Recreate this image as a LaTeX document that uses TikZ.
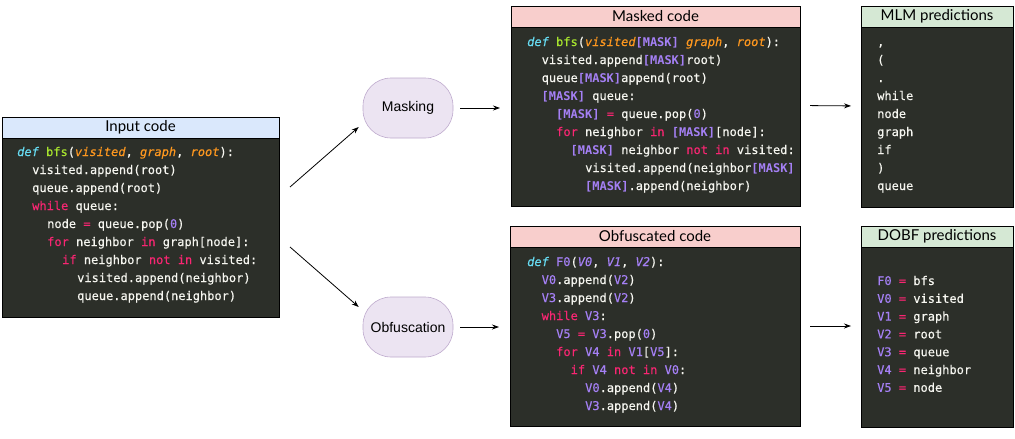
\documentclass[tikz,border=0pt]{standalone}
\usepackage{fontspec}
\setmainfont{Liberation Sans}
\setmonofont[UprightFeatures={FakeBold=0.35}, ItalicFeatures={FakeBold=0.35}]{DejaVu Sans Mono}
\newfontfamily\headfont{Lato}
\usetikzlibrary{arrows.meta,positioning,calc}

\definecolor{codebg}{RGB}{44,47,41}
\definecolor{codefg}{RGB}{246,246,240}
\definecolor{inhead}{RGB}{218,232,252}
\definecolor{redhead}{RGB}{248,206,204}
\definecolor{greenhead}{RGB}{213,232,212}
\definecolor{opfill}{RGB}{236,228,242}
\definecolor{opline}{RGB}{190,170,205}
\definecolor{cpink}{RGB}{249,38,114}
\definecolor{ccyan}{RGB}{102,217,239}
\definecolor{cgreen}{RGB}{166,226,46}
\definecolor{corange}{RGB}{253,151,31}
\definecolor{cpurple}{RGB}{165,128,245}

\newcommand{\ckw}[1]{\textcolor{cpink}{#1}}
\newcommand{\cdef}[1]{\textcolor{ccyan}{\itshape #1}}
\newcommand{\cfn}[1]{\textcolor{cgreen}{#1}}
\newcommand{\carg}[1]{\textcolor{corange}{\itshape #1}}
\newcommand{\cnum}[1]{\textcolor{cpurple}{#1}}
\newcommand{\cvar}[1]{\textcolor{cpurple}{\itshape #1}}
\newcommand{\cmask}[1]{\textcolor{cpurple}{\bfseries #1}}

\begin{document}
\begin{tikzpicture}[
  x=1pt, y=-1pt,
  head/.style={draw, line width=0.8pt, anchor=north west, inner sep=0pt, outer sep=0pt, minimum height=21pt, font=\headfont\fontsize{15}{17}\selectfont},
  body/.style={draw, line width=0.8pt, fill=codebg, anchor=north west, inner sep=0pt, outer sep=0pt},
  code/.style={anchor=base west, inner sep=0pt, text=codefg, font=\ttfamily\fontsize{12}{18}\selectfont},
  op/.style={draw=opline, fill=opfill, line width=0.6pt, rounded corners=28pt, minimum width=90pt, minimum height=60pt, font=\fontsize{14}{16}\selectfont},
  arr/.style={-{Stealth[length=7pt, width=5pt]}, line width=0.8pt},
]
  \useasboundingbox (0,0) rectangle (1015,439);

  % Input code
  \node[head, fill=inhead, minimum width=277pt] (inhead) at (2,117) {Input code};
  \node[body, minimum width=277pt, minimum height=179pt] (inbody) at (inhead.south west) {};
  \foreach \ind/\txt [count=\i] in {
      0/{\cdef{def} \cfn{bfs}(\carg{visited}, \carg{graph}, \carg{root}):},
      1/{visited.append(root)},
      1/{queue.append(root)},
      1/{\ckw{while} queue:},
      2/{node \ckw{=} queue.pop(\cnum{0})},
      2/{\ckw{for} neighbor \ckw{in} graph[node]:},
      3/{\ckw{if} neighbor \ckw{not} \ckw{in} visited:},
      4/{visited.append(neighbor)},
      4/{queue.append(neighbor)}}
    \node[code] (in-\i) at (17+15*\ind, 156+18*\i-18) {\txt};

  % Operations
  \node[op] (mask) at (408,108) {Masking};
  \node[op] (obf) at (408,327) {Obfuscation};

  % Masked code
  \node[head, fill=redhead, minimum width=289pt] (mhead) at (511,6) {Masked code};
  \node[body, minimum width=289pt, minimum height=179pt] (mbody) at (mhead.south west) {};
  \foreach \ind/\txt [count=\i] in {
      0/{\cdef{def} \cfn{bfs}(\carg{visited}\cmask{[MASK]} \carg{graph}, \carg{root}):},
      1/{visited.append\cmask{[MASK]}root)},
      1/{queue\cmask{[MASK]}append(root)},
      1/{\cmask{[MASK]} queue:},
      2/{\cmask{[MASK]} \ckw{=} queue.pop(\cnum{0})},
      2/{\ckw{for} neighbor \ckw{in} \cmask{[MASK]}[node]:},
      3/{\cmask{[MASK]} neighbor \ckw{not} \ckw{in} visited:},
      4/{visited.append(neighbor\cmask{[MASK]}},
      4/{\cmask{[MASK]}.append(neighbor)}}
    \node[code] (m-\i) at (527+14.5*\ind, 46+18*\i-18) {\txt};

  % Obfuscated code
  \node[head, fill=redhead, minimum width=290pt] (ohead) at (510,226) {Obfuscated code};
  \node[body, minimum width=290pt, minimum height=179pt] (obody) at (ohead.south west) {};
  \foreach \ind/\txt [count=\i] in {
      0/{\cdef{def} \cnum{F0}(\cvar{V0}, \cvar{V1}, \cvar{V2}):},
      1/{\cnum{V0}.append(\cnum{V2})},
      1/{\cnum{V3}.append(\cnum{V2})},
      1/{\ckw{while} \cnum{V3}:},
      2/{\cnum{V5} \ckw{=} \cnum{V3}.pop(\cnum{0})},
      2/{\ckw{for} \cnum{V4} \ckw{in} \cnum{V1}[\cnum{V5}]:},
      3/{\ckw{if} \cnum{V4} \ckw{not} \ckw{in} \cnum{V0}:},
      4/{\cnum{V0}.append(\cnum{V4})},
      4/{\cnum{V3}.append(\cnum{V4})}}
    \node[code] (o-\i) at (527+14.5*\ind, 266+18*\i-18) {\txt};

  % MLM predictions
  \node[head, fill=greenhead, minimum width=152pt] (mlmhead) at (861,6) {MLM predictions};
  \node[body, minimum width=152pt, minimum height=180pt] (mlmbody) at (mlmhead.south west) {};
  \foreach \txt [count=\i] in {{,}, {(}, {.}, while, node, graph, if, {)}, queue}
    \node[code] (mlm-\i) at (877, 46+18*\i-18) {\txt};

  % DOBF predictions
  \node[head, fill=greenhead, minimum width=152pt] (dhead) at (861,226) {DOBF predictions};
  \node[body, minimum width=152pt, minimum height=180pt] (dbody) at (dhead.south west) {};
  \foreach \var/\val [count=\i] in {F0/bfs, V0/visited, V1/graph, V2/root, V3/queue, V4/neighbor, V5/node}
    \node[code] (d-\i) at (877, 285+17.8*\i-17.8) {\cnum{\var} \ckw{=} \val};

  % Arrows
  \coordinate (fork-up) at (290,187);
  \coordinate (fork-dn) at (290,247);
  \draw[arr] (fork-up) -- ($(mask.west)+(-4,19)$);
  \draw[arr] (fork-dn) -- ($(obf.west)+(-4,-20)$);
  \draw[arr, shorten <=7pt, shorten >=11pt] (mask.east) -- (mask.east -| mbody.west);
  \draw[arr, shorten <=7pt, shorten >=11pt] (obf.east) -- (obf.east -| obody.west);
  \draw[arr, shorten <=10pt, shorten >=10pt] ($(mbody.east)+(0,-11)$) -- ($(mlmbody.west)+(0,-11)$);
  \draw[arr, shorten <=10pt, shorten >=10pt] ($(obody.east |- obf.east)+(0,-1)$) -- ($(dbody.west |- obf.east)+(0,-1)$);
\end{tikzpicture}
\end{document}
